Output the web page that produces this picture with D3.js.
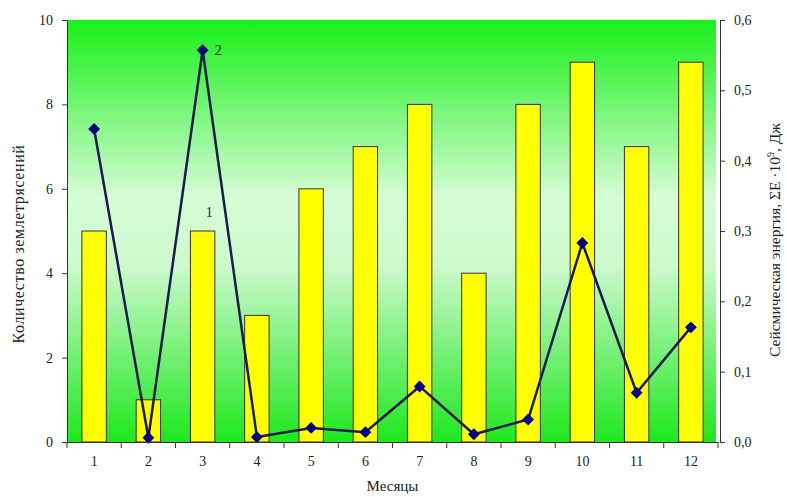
<!DOCTYPE html>
<html>
  <head>
    <style>
      body { margin: 0; background: #fff; }
      text { font-family: 'Liberation Serif', 'DejaVu Serif', serif; fill: #222; }
      .tick text { font-size: 14px; }
      .axis path, .axis line { stroke: #333; }
    </style>
  </head>
  <body>
    <script src="https://d3js.org/d3.v7.min.js"></script>
    <script>
      var months = ["1", "2", "3", "4", "5", "6", "7", "8", "9", "10", "11", "12"];
      var quakeCounts = [5, 1, 5, 3, 6, 7, 8, 4, 8, 9, 7, 9];
      var energy = [0.445, 0.006, 0.557, 0.007, 0.020, 0.014, 0.079, 0.011, 0.032, 0.283, 0.070, 0.163];
      var leftTicks = [0, 2, 4, 6, 8, 10];
      var rightTicks = [0, 0.1, 0.2, 0.3, 0.4, 0.5, 0.6];

      var width = 787, height = 497;
      var margin = { top: 20, right: 69, bottom: 55, left: 67 };
      var plotW = width - margin.left - margin.right;
      var plotH = height - margin.top - margin.bottom;

      var svg = d3.select("body").append("svg")
        .attr("width", width)
        .attr("height", height);

      var grad = svg.append("defs").append("linearGradient")
        .attr("id", "bg").attr("x1", 0).attr("y1", 0).attr("x2", 0).attr("y2", 1);
      grad.append("stop").attr("offset", "0%").attr("stop-color", "#18f018");
      grad.append("stop").attr("offset", "42%").attr("stop-color", "#d6fcd6");
      grad.append("stop").attr("offset", "58%").attr("stop-color", "#cdfacd");
      grad.append("stop").attr("offset", "100%").attr("stop-color", "#1ee81e");

      var g = svg.append("g").attr("transform", "translate(" + margin.left + "," + margin.top + ")");

      var x = d3.scaleBand().domain(months).range([0, plotW]).paddingInner(0.55).paddingOuter(0.275);
      var xBand = d3.scaleBand().domain(months).range([0, plotW]);
      var yLeft = d3.scaleLinear().domain([0, 10]).range([plotH, 0]);
      var yRight = d3.scaleLinear().domain([0, 0.6]).range([plotH, 0]);

      g.append("rect")
        .attr("width", plotW - 2).attr("height", plotH)
        .attr("fill", "url(#bg)");

      g.selectAll(".bar")
        .data(quakeCounts)
        .enter().append("rect")
        .attr("class", "bar")
        .attr("x", function(d, i) { return x(months[i]); })
        .attr("y", function(d) { return yLeft(d); })
        .attr("width", x.bandwidth())
        .attr("height", function(d) { return plotH - yLeft(d); })
        .attr("fill", "#ffff00")
        .attr("stroke", "#333")
        .attr("stroke-width", 1);

      var line = d3.line()
        .x(function(d, i) { return xBand(months[i]) + xBand.bandwidth() / 2; })
        .y(function(d) { return yRight(d); });

      g.append("path")
        .datum(energy)
        .attr("d", line)
        .attr("fill", "none")
        .attr("stroke", "#1a1a50")
        .attr("stroke-width", 2.5);

      g.selectAll(".pt")
        .data(energy)
        .enter().append("path")
        .attr("class", "pt")
        .attr("transform", function(d, i) {
          return "translate(" + (xBand(months[i]) + xBand.bandwidth() / 2) + "," + yRight(d) + ")";
        })
        .attr("d", d3.symbol().type(d3.symbolDiamond2).size(90))
        .attr("fill", "#000080");

      // axes
      var xAxis = d3.axisBottom(xBand).tickSize(6).tickSizeOuter(0);
      var gx = g.append("g").attr("class", "axis").attr("transform", "translate(0," + plotH + ")").call(xAxis);
      gx.selectAll(".tick line").attr("transform", "translate(" + (-xBand.bandwidth() / 2) + ",0)");
      gx.append("line").attr("x1", plotW).attr("x2", plotW).attr("y1", 0).attr("y2", 6).attr("stroke", "#333");
      gx.selectAll(".tick text").attr("dy", "1.1em");

      var gl = g.append("g").attr("class", "axis")
        .call(d3.axisLeft(yLeft).tickValues(leftTicks).tickSize(5).tickSizeOuter(0));
      gl.selectAll(".tick text").attr("x", -14);

      var gr = g.append("g").attr("class", "axis").attr("transform", "translate(" + (plotW + 2) + ",0)")
        .call(d3.axisRight(yRight).tickValues(rightTicks).tickSize(5).tickSizeOuter(0)
          .tickFormat(function(d) { return d3.format(".1f")(d).replace(".", ","); }));
      gr.selectAll(".tick text").attr("x", 14);

      // series labels
      g.append("text").attr("x", xBand("3") + xBand.bandwidth() / 2 + 12).attr("y", yRight(energy[2]) + 5)
        .attr("font-size", 14).text("2");
      g.append("text").attr("x", xBand("3") + xBand.bandwidth() / 2 + 3).attr("y", yLeft(quakeCounts[2]) - 14)
        .attr("font-size", 14).text("1");

      // axis titles
      svg.append("text")
        .attr("transform", "translate(24," + (margin.top + plotH / 2 + 13) + ") rotate(-90)")
        .attr("text-anchor", "middle").attr("font-size", 16).attr("letter-spacing", 0.6)
        .text("Количество землетрясений");

      var rt = svg.append("text")
        .attr("transform", "translate(780," + (margin.top + plotH / 2 + 9) + ") rotate(-90)")
        .attr("text-anchor", "middle").attr("font-size", 15.5);
      rt.append("tspan").text("Сейсмическая энергия, ΣE ·10");
      rt.append("tspan").attr("font-size", 10).attr("dy", -6).text("9");
      rt.append("tspan").attr("dy", 6).text(", Дж");

      svg.append("text")
        .attr("x", margin.left + plotW / 2).attr("y", 491)
        .attr("text-anchor", "middle").attr("font-size", 15)
        .text("Месяцы");
    </script>
  </body>
</html>
